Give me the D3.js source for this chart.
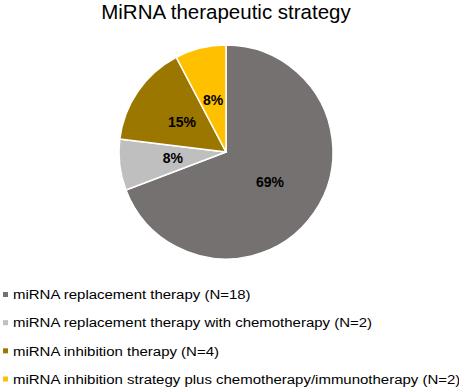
<!DOCTYPE html>
<html>
<head>
<meta charset="utf-8">
<script src="https://cdn.jsdelivr.net/npm/d3@7"></script>
<style>
  body { margin: 0; background: #fff; }
  text { font-family: "Liberation Sans", Arial, sans-serif; }
</style>
</head>
<body>
<div id="chart"></div>
<script>
/** Chart data */
const categories = [
  "miRNA replacement therapy (N=18)",
  "miRNA replacement therapy with chemotherapy (N=2)",
  "miRNA inhibition therapy (N=4)",
  "miRNA inhibition strategy plus chemotherapy/immunotherapy (N=2)",
];
const counts = [18, 2, 4, 2];
const colors = ["#767171", "#bfbfbf", "#9c7700", "#ffc000"];

const width = 459;
const height = 390;
const cx = 226;
const cy = 152;
const radius = 107;

const svg = d3
  .select("#chart")
  .append("svg")
  .attr("width", width)
  .attr("height", height);

/** Title */
svg
  .append("text")
  .attr("x", cx)
  .attr("y", 19)
  .attr("text-anchor", "middle")
  .style("font-size", "20.5px")
  .style("fill", "#000")
  .text("MiRNA therapeutic strategy");

const data = categories.map((c, i) => ({ name: c, value: counts[i], color: colors[i] }));
const total = d3.sum(counts);

const pie = d3.pie().value((d) => d.value).sort(null);
const arc = d3.arc().innerRadius(0).outerRadius(radius);
const labelArc = d3.arc().innerRadius(radius * 0.5).outerRadius(radius * 0.5);

const g = svg.append("g").attr("transform", `translate(${cx},${cy})`);

const arcs = pie(data);

g.selectAll("path")
  .data(arcs)
  .enter()
  .append("path")
  .attr("d", arc)
  .attr("fill", (d) => d.data.color)
  .attr("stroke", "#fff")
  .attr("stroke-width", 1.5);

g.selectAll("text")
  .data(arcs)
  .enter()
  .append("text")
  .attr("transform", (d) => `translate(${labelArc.centroid(d)})`)
  .attr("text-anchor", "middle")
  .attr("dy", "0.35em")
  .style("font-size", "14px")
  .style("font-weight", "bold")
  .style("fill", "#000")
  .text((d) => Math.round((d.data.value / total) * 100) + "%");

/** Legend */
const legendY = d3.scalePoint().domain(categories).range([294.5, 379]);

const legend = svg
  .append("g")
  .selectAll("g")
  .data(data)
  .enter()
  .append("g")
  .attr("transform", (d) => `translate(3,${legendY(d.name)})`);

legend
  .append("rect")
  .attr("x", 0)
  .attr("y", -2.5)
  .attr("width", 5)
  .attr("height", 5)
  .attr("fill", (d) => d.color);

legend
  .append("text")
  .attr("transform", "translate(10,0) scale(1.11,1)")
  .attr("dy", "0.35em")
  .style("font-size", "13.5px")
  .style("fill", "#000")
  .text((d) => d.name);
</script>
</body>
</html>
